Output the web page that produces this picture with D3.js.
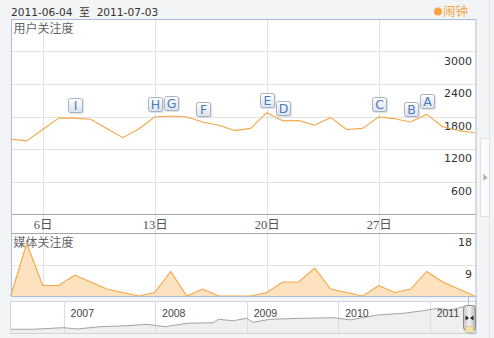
<!DOCTYPE html>
<html>
<head>
<meta charset="utf-8">
<script src="https://cdn.jsdelivr.net/npm/d3@7"></script>
<style>
  html, body { margin: 0; padding: 0; background: #f3f4f6; }
  svg { display: block; }
</style>
</head>
<body>
<svg id="chart" width="494" height="338"></svg>
<script>
// ---- data ----
const dates = [
  "2011-06-04","2011-06-05","2011-06-06","2011-06-07","2011-06-08","2011-06-09",
  "2011-06-10","2011-06-11","2011-06-12","2011-06-13","2011-06-14","2011-06-15",
  "2011-06-16","2011-06-17","2011-06-18","2011-06-19","2011-06-20","2011-06-21",
  "2011-06-22","2011-06-23","2011-06-24","2011-06-25","2011-06-26","2011-06-27",
  "2011-06-28","2011-06-29","2011-06-30","2011-07-01","2011-07-02","2011-07-03"
];
// 用户关注度 (search index)
const userValues = [
  1380, 1350, 1560, 1770, 1770, 1750, 1580, 1410, 1570, 1790,
  1810, 1790, 1700, 1640, 1540, 1580, 1870, 1720, 1725, 1640,
  1780, 1560, 1580, 1790, 1760, 1700, 1840, 1610, 1540, 1500
];
// 媒体关注度 (news count)
const mediaValues = [
  0, 15, 3, 3, 6, 4, 2, 1, 0, 1,
  7, 0, 2, 0, 0, 0, 1, 4, 4, 8,
  2, 1, 0, 3, 1, 2, 7, 4, 2, 0
];
const flagLetters = ["I", "H", "G", "F", "E", "D", "C", "B", "A"];
const flagDates = ["2011-06-08","2011-06-13","2011-06-14","2011-06-16","2011-06-20",
                   "2011-06-21","2011-06-27","2011-06-29","2011-06-30"];
const userTicks = [600, 1200, 1800, 2400, 3000];
const mediaTicks = [9, 18];
const dayTicks = ["2011-06-06","2011-06-13","2011-06-20","2011-06-27"];

// long-range overview line
const navDates = [
  "2006-06-06","2006-09-02","2007-01-01","2007-02-24","2007-05-26","2007-09-12",
  "2007-11-30","2008-02-10","2008-05-08","2008-08-20","2008-09-09","2008-11-08",
  "2009-01-01","2009-01-25","2009-04-04","2009-08-02","2009-12-12","2010-02-18",
  "2010-06-06","2010-09-18","2010-12-06","2011-02-01","2011-03-25","2011-05-15",
  "2011-07-03"
];
const navValues = [
  280, 280, 400, 300, 470, 550, 650, 470, 730, 770, 1030, 920,
  1100, 800, 1030, 1100, 1150, 980, 1350, 1480, 1670, 1850, 1720, 1970, 1850
];
const navYears = ["2007", "2008", "2009", "2010", "2011"];

const headerText = "2011-06-04 至 2011-07-03";
const seriesName = "闹钟";
const userTitle = "用户关注度";
const mediaTitle = "媒体关注度";

// ---- setup ----
const parse = d3.timeParse("%Y-%m-%d");
const svg = d3.select("#chart");
const orange = "#f4a545";
const panelBlue = "#a9bcda";
const gridColor = "#e3e3e3";
const cjk = "'Noto Sans CJK SC', sans-serif";

const left = 11, right = 476;
const mainTop = 19, mainBottom = 214, bandBottom = 233, mediaBottom = 296;

const x = d3.scaleTime()
  .domain([parse(dates[0]), parse(dates[dates.length - 1])])
  .range([10.7, 474.7]);
const yUser = d3.scaleLinear().domain([0, 3600]).range([mainBottom, mainTop]);
const yMedia = d3.scaleLinear().domain([0, 18]).range([mediaBottom, bandBottom]);

const defs = svg.append("defs");
const flagGrad = defs.append("linearGradient").attr("id", "flagGrad")
  .attr("x1", 0).attr("y1", 0).attr("x2", 0).attr("y2", 1);
flagGrad.append("stop").attr("offset", "0%").attr("stop-color", "#ffffff");
flagGrad.append("stop").attr("offset", "100%").attr("stop-color", "#dbe2ec");
const handleGrad = defs.append("linearGradient").attr("id", "handleGrad")
  .attr("x1", 0).attr("y1", 0).attr("x2", 1).attr("y2", 0);
handleGrad.append("stop").attr("offset", "0%").attr("stop-color", "#c8c8c8");
handleGrad.append("stop").attr("offset", "50%").attr("stop-color", "#f2f2f2");
handleGrad.append("stop").attr("offset", "100%").attr("stop-color", "#b4b4b4");

// right-hand frame line and collapsed side tab
svg.append("line").attr("x1", 489.5).attr("x2", 489.5).attr("y1", 0).attr("y2", 338)
  .attr("stroke", "#e2e5ea");
svg.append("rect").attr("x", 480.5).attr("y", 138.5).attr("width", 9).attr("height", 78)
  .attr("fill", "#f9fafb").attr("stroke", "#dde1e8");
svg.append("path").attr("d", "M483.5,174 L487.5,177.5 L483.5,181 Z").attr("fill", "#b0b0b0");

// ---- header ----
svg.append("text").attr("x", 11).attr("y", 16)
  .attr("font-family", "'DejaVu Sans', " + cjk).attr("font-size", 10.6)
  .attr("fill", "#333").attr("xml:space", "preserve")
  .text(headerText.replace(" 至 ", "  至  "));
svg.append("circle").attr("cx", 438).attr("cy", 11.5).attr("r", 4).attr("fill", orange);
svg.append("text").attr("x", 443).attr("y", 16)
  .attr("font-family", cjk).attr("font-size", 12.5).attr("fill", orange).text(seriesName);

// ---- panel ----
svg.append("rect").attr("x", left + 0.5).attr("y", mainTop + 0.5)
  .attr("width", right - left - 0.5).attr("height", mediaBottom - mainTop)
  .attr("fill", "#ffffff");

// horizontal grid (main)
svg.append("g").selectAll("line").data(userTicks).join("line")
  .attr("x1", left).attr("x2", right)
  .attr("y1", d => Math.round(yUser(d)) + 0.5).attr("y2", d => Math.round(yUser(d)) + 0.5)
  .attr("stroke", gridColor);
// horizontal grid (media)
svg.append("g").selectAll("line").data(mediaTicks.filter(d => d < 18)).join("line")
  .attr("x1", left).attr("x2", right)
  .attr("y1", d => Math.round(yMedia(d)) + 0.5).attr("y2", d => Math.round(yMedia(d)) + 0.5)
  .attr("stroke", gridColor);
// vertical grid through all three strips
svg.append("g").selectAll("line").data(dayTicks).join("line")
  .attr("x1", d => Math.round(x(parse(d))) + 0.5).attr("x2", d => Math.round(x(parse(d))) + 0.5)
  .attr("y1", mainTop).attr("y2", mediaBottom)
  .attr("stroke", gridColor);

// date band
svg.append("line").attr("x1", left).attr("x2", right)
  .attr("y1", mainBottom + 0.5).attr("y2", mainBottom + 0.5).attr("stroke", "#a8a8a8");
svg.append("line").attr("x1", left).attr("x2", right)
  .attr("y1", bandBottom + 0.5).attr("y2", bandBottom + 0.5).attr("stroke", "#a8a8a8");
const dayAxis = d3.axisBottom(x)
  .tickValues(dayTicks.map(parse))
  .tickFormat(d3.timeFormat("%-d日"))
  .tickSize(0).tickPadding(0);
const dayAxisG = svg.append("g").attr("transform", `translate(0,${mainBottom + 4})`).call(dayAxis);
dayAxisG.select(".domain").remove();
dayAxisG.selectAll("text")
  .attr("font-family", "'Liberation Serif', " + cjk).attr("font-size", 12.5)
  .attr("fill", "#555").attr("dy", "0.85em");

// y labels (right side, below their grid line)
const userAxis = d3.axisLeft(yUser).tickValues(userTicks)
  .tickFormat(d3.format("d")).tickSize(0).tickPadding(0);
const userAxisG = svg.append("g").attr("transform", "translate(472,0)").call(userAxis);
userAxisG.select(".domain").remove();
userAxisG.selectAll("text").attr("font-family", "'DejaVu Sans', sans-serif")
  .attr("font-size", 11).attr("fill", "#333").attr("dy", "1.15em");
const mediaAxis = d3.axisLeft(yMedia).tickValues(mediaTicks)
  .tickFormat(d3.format("d")).tickSize(0).tickPadding(0);
const mediaAxisG = svg.append("g").attr("transform", "translate(472,0)").call(mediaAxis);
mediaAxisG.select(".domain").remove();
mediaAxisG.selectAll("text").attr("font-family", "'DejaVu Sans', sans-serif")
  .attr("font-size", 11).attr("fill", "#333").attr("dy", "1.15em");

// panel titles
svg.append("text").attr("x", 13.5).attr("y", 32.5)
  .attr("font-family", cjk).attr("font-size", 12).attr("fill", "#666").text(userTitle);
svg.append("text").attr("x", 13.5).attr("y", 247)
  .attr("font-family", cjk).attr("font-size", 12).attr("fill", "#666").text(mediaTitle);

// ---- series ----
const userData = dates.map((d, i) => ({ date: parse(d), value: userValues[i] }));
const mediaData = dates.map((d, i) => ({ date: parse(d), value: mediaValues[i] }));

svg.append("path").datum(mediaData)
  .attr("d", d3.area().x(d => x(d.date)).y0(yMedia(0)).y1(d => yMedia(d.value)))
  .attr("fill", "#fde2bf");
svg.append("path").datum(mediaData)
  .attr("d", d3.line().x(d => x(d.date)).y(d => yMedia(d.value)))
  .attr("fill", "none").attr("stroke", orange).attr("stroke-width", 1.1);

svg.append("path").datum(userData)
  .attr("d", d3.line().x(d => x(d.date)).y(d => yUser(d.value)))
  .attr("fill", "none").attr("stroke", orange).attr("stroke-width", 1.1)
  .attr("stroke-linejoin", "round");

// event flags
const flags = flagLetters.map((l, i) => {
  const idx = dates.indexOf(flagDates[i]);
  return { letter: l, date: parse(flagDates[i]), value: userValues[idx] };
});
const flagG = svg.append("g").selectAll("g").data(flags).join("g")
  .attr("transform", d => `translate(${Math.round(x(d.date)) - 7},${Math.round(yUser(d.value)) - 20})`);
flagG.append("rect").attr("x", 1).attr("y", 1).attr("width", 15).attr("height", 15)
  .attr("rx", 2).attr("fill", "#c9ced6").attr("opacity", 0.6);
flagG.append("rect").attr("x", 0.5).attr("y", 0.5).attr("width", 14).attr("height", 14)
  .attr("rx", 2).attr("fill", "url(#flagGrad)").attr("stroke", "#a9b2bf");
flagG.append("text").attr("x", 7.5).attr("y", 12.2)
  .attr("text-anchor", "middle")
  .attr("font-family", "'DejaVu Sans', sans-serif").attr("font-size", 12.5)
  .attr("fill", "#4c7bbd").text(d => d.letter);

// panel border on top
svg.append("rect").attr("x", left + 0.5).attr("y", mainTop + 0.5)
  .attr("width", right - left - 0.5).attr("height", mediaBottom - mainTop)
  .attr("fill", "none").attr("stroke", panelBlue);

// ---- overview navigator ----
const navTop = 301, navBottom = 333;
const xNav = d3.scaleTime()
  .domain([parse("2006-06-01"), parse("2011-07-05")])
  .range([10, 476]);
const yNav = d3.scaleLinear().domain([0, 2400]).range([navBottom, navTop]);

svg.append("rect").attr("x", 10.5).attr("y", navTop + 0.5)
  .attr("width", 465).attr("height", navBottom - navTop)
  .attr("fill", "#ffffff");
const navData = navDates.map((d, i) => ({ date: parse(d), value: navValues[i] }));
svg.append("path").datum(navData)
  .attr("d", d3.area().x(d => xNav(d.date)).y0(navBottom).y1(d => yNav(d.value)))
  .attr("fill", "#efefef");
svg.append("g").selectAll("line").data(navYears).join("line")
  .attr("x1", d => Math.round(xNav(parse(d + "-01-01"))) + 0.5)
  .attr("x2", d => Math.round(xNav(parse(d + "-01-01"))) + 0.5)
  .attr("y1", navTop).attr("y2", navBottom).attr("stroke", "#dcdcdc");
svg.append("path").datum(navData)
  .attr("d", d3.line().x(d => xNav(d.date)).y(d => yNav(d.value)))
  .attr("fill", "none").attr("stroke", "#a3a3a3").attr("stroke-width", 1);
svg.append("g").selectAll("text").data(navYears).join("text")
  .attr("x", d => xNav(parse(d + "-01-01")) + 7).attr("y", 317)
  .attr("font-family", "'Liberation Sans', sans-serif").attr("font-size", 10.5)
  .attr("fill", "#444").text(d => d);
svg.append("rect").attr("x", 10.5).attr("y", navTop + 0.5)
  .attr("width", 465).attr("height", navBottom - navTop)
  .attr("fill", "none").attr("stroke", "#cfd5de");

// selected window connector and handle
svg.append("rect").attr("x", 468.5).attr("y", mediaBottom + 0.5)
  .attr("width", 7.5).attr("height", navBottom - mediaBottom)
  .attr("fill", "none").attr("stroke", panelBlue);
const handle = svg.append("g").attr("transform", "translate(463.5,305.5)");
handle.append("rect").attr("width", 12).attr("height", 25).attr("rx", 3)
  .attr("fill", "url(#handleGrad)").attr("stroke", "#8c8c8c");
handle.append("rect").attr("x", 2).attr("y", 21).attr("width", 8).attr("height", 6)
  .attr("fill", "#f4e2a6").attr("stroke", "#c9b98a").attr("stroke-width", 0.6);
handle.append("path").attr("d", "M2,10 L5.5,12.5 L2,15 Z").attr("fill", "#222");
handle.append("path").attr("d", "M10,10 L6.5,12.5 L10,15 Z").attr("fill", "#222");
</script>
</body>
</html>
